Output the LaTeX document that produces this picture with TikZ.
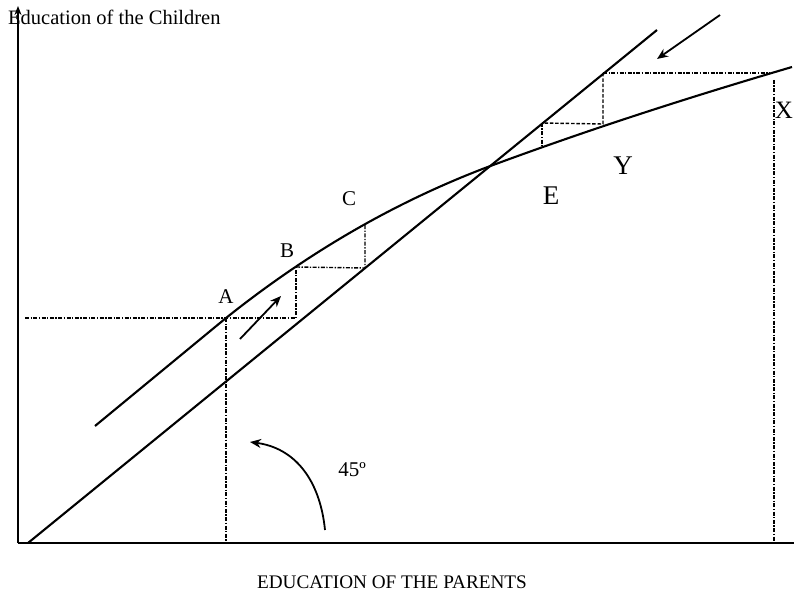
\documentclass[tikz,border=0pt]{standalone}
\usepackage{fontspec}
\setmainfont{Liberation Serif}
\usetikzlibrary{arrows.meta}
\begin{document}
\begin{tikzpicture}[x=1pt,y=-1pt,
  axis/.style={line width=2.3pt},
  mainline/.style={line width=2.1pt},
  dd/.style={line width=1.4pt,dash pattern=on 4pt off 1.5pt on 1.3pt off 1.5pt},
  ds/.style={line width=1.4pt,dash pattern=on 3.5pt off 1.8pt},
  lbl/.style={inner sep=0pt,font=\fontsize{21}{21}\selectfont},
  biglbl/.style={inner sep=0pt,font=\fontsize{27}{27}\selectfont},
  arr/.style={line width=1.8pt,-{Stealth[length=11pt,width=9pt]}}]
\useasboundingbox (0,0) rectangle (794,596);
% axes
\coordinate (O) at (18,543);
\coordinate (ytop) at (18,6);
\coordinate (xend) at (794,543);
\draw[axis] (O) -- (xend);
\draw[axis,-{Stealth[length=9pt,width=7pt]}] (O) -- (ytop);
% 45 degree line
\coordinate (L0) at (28,543);
\coordinate (L1) at (657,30);
\draw[mainline] (L0) -- (L1);
% curve
\coordinate (c0) at (95,426);
\coordinate (A) at (226,318);
\coordinate (B) at (296,267);
\coordinate (C) at (365,224);
\coordinate (E) at (485,168);
\coordinate (c5) at (542,146.5);
\coordinate (c6) at (603,124);
\coordinate (c8) at (792,67);
\draw[mainline] (c0) -- (A) .. controls (310,251) and (396,202) .. (E)
  .. controls (590,129) and (690,97) .. (c8);
% step lines (lower)
\coordinate (Ay) at (25,318);
\coordinate (Ax) at (226,543);
\coordinate (P1) at (296,318);
\coordinate (P2) at (365,268);
\draw[dd] (Ay) -- (P1) -- (B);
\draw[dd] (A) -- (Ax);
\draw[dd] (B) -- (P2) -- (C);
% step lines (upper)
\coordinate (Q0) at (603,73);
\coordinate (Q1) at (542,123);
\coordinate (Xt) at (770,73);
\coordinate (Xv) at (774,80);
\coordinate (Xb) at (774,543);
\draw[dd] (Q0) -- (Xt);
\draw[dd] (Xv) -- (Xb);
\draw[ds] (Q0) -- (c6) -- (Q1);
\draw[dd] (Q1) -- (c5);
% arrows
\coordinate (a1s) at (240,339);
\coordinate (a1e) at (281,296);
\draw[arr] (a1s) -- (a1e);
\coordinate (a2s) at (720,15);
\coordinate (a2e) at (657,59);
\draw[arr] (a2s) -- (a2e);
\coordinate (a3s) at (325,530);
\coordinate (a3e) at (250,442);
\draw[arr] (a3s) .. controls (320,480) and (295,448) .. (a3e);
% labels
\node[lbl] (lA) at (226,297) {A};
\node[lbl] (lB) at (287,251) {B};
\node[lbl] (lC) at (349,199) {C};
\node[lbl] (l45) at (352,470) {45º};
\node[biglbl] (lE) at (551,196) {E};
\node[biglbl] (lY) at (623,166) {Y};
\node[inner sep=0pt,font=\fontsize{25}{25}\selectfont] (lX) at (784,110) {X};
\node[anchor=base west,inner sep=0pt,font=\fontsize{20.5}{20.5}\selectfont] (ylab) at (8,25) {Education of the Children};
\node[inner sep=0pt,font=\fontsize{19.2}{19.2}\selectfont] (xlab) at (392,582) {EDUCATION OF THE PARENTS};
\end{tikzpicture}
\end{document}
